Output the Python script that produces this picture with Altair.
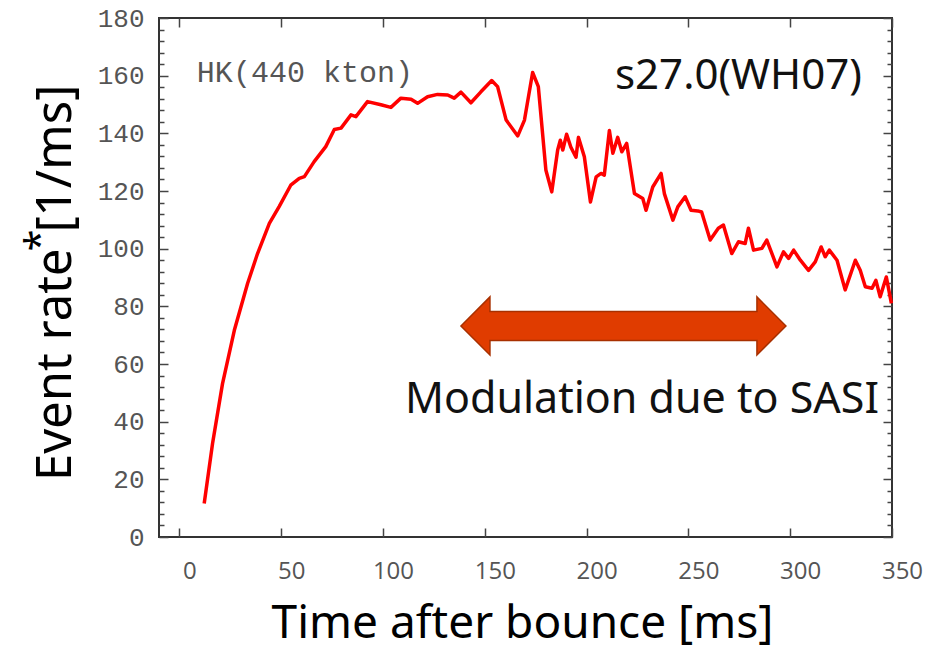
import altair as alt
import pandas as pd

# ---- data ----
time_ms = [12.2, 16.3, 21.2, 27.0, 33.5, 38.4, 44.2, 49.0, 54.7, 58.9,
           61.4, 66.2, 71.9, 76.1, 79.4, 84.3, 86.7, 92.4, 99.0, 103.9,
           108.8, 113.8, 117.0, 121.9, 126.8, 131.8, 135.0, 138.3, 143.2, 148.1,
           153.4, 156.3, 160.5, 166.2, 169.5, 173.5, 176.3, 180.0, 182.9, 185.8,
           187.1, 188.3, 190.2, 192.3, 194.8, 196.0, 198.9, 201.9, 204.7, 207.1,
           208.7, 211.2, 212.9, 215.3, 217.3, 219.7, 223.5, 227.6, 229.2, 232.5,
           236.6, 238.2, 242.4, 244.8, 248.4, 251.3, 254.6, 256.5, 260.7, 264.7,
           267.2, 271.3, 274.6, 277.9, 279.5, 282.0, 286.1, 288.5, 293.5, 296.7,
           299.2, 301.7, 305.0, 309.0, 312.3, 315.2, 317.2, 319.2, 323.0, 327.0,
           332.0, 334.4, 336.9, 340.2, 342.1, 344.2, 347.2, 349.7]
event_rate = [11.6, 32.4, 53.2, 71.7, 87.9, 98.3, 108.8, 114.6, 122.0, 124.4,
              125.0, 130.2, 135.4, 141.3, 141.8, 146.4, 145.8, 151.0, 149.9, 149.0,
              152.2, 151.8, 150.4, 152.7, 153.5, 153.3, 152.2, 154.3, 150.6, 154.4,
              158.3, 156.2, 144.6, 139.1, 144.6, 161.1, 156.2, 127.3, 119.7, 134.2,
              137.6, 134.2, 139.7, 135.2, 131.7, 138.6, 131.9, 116.2, 124.9, 126.1,
              125.5, 141.0, 133.1, 138.6, 133.6, 136.5, 119.1, 117.4, 113.3, 121.4,
              126.1, 119.1, 109.9, 114.5, 118.0, 113.3, 113.1, 112.7, 103.0, 107.1,
              108.2, 98.3, 102.4, 101.8, 107.1, 99.5, 100.1, 103.0, 93.7, 98.9,
              96.6, 99.5, 96.0, 92.5, 95.4, 100.6, 97.2, 99.5, 96.0, 85.7,
              96.0, 92.5, 86.8, 86.3, 89.0, 83.3, 90.2, 81.0]

x_ticks = [0, 50, 100, 150, 200, 250, 300, 350]
y_ticks = [0, 20, 40, 60, 80, 100, 120, 140, 160, 180]
y_minor = [v for v in range(0, 181, 4) if v % 20 != 0]

arrow_start = [138.3]
arrow_end = [297.9]
arrow_y = [73.2]

notes_text = ["HK(440 kton)", "s27.0(WH07)", "Modulation due to SASI"]
notes_t = [8.6, 335.2, 227.2]
notes_v = [157.8, 155.3, 42.9]

x_title = "Time after bounce [ms]"
y_title_parts = ["Event rate", "*", "[1/ms]"]

df = pd.DataFrame({"t": time_ms, "rate": event_rate})
arrow_df = pd.DataFrame({"xs": arrow_start, "xe": arrow_end, "y": arrow_y})
arrow_df["xc"] = (arrow_df["xs"] + arrow_df["xe"]) / 2

xscale = alt.Scale(domain=[-10, 350], nice=False, zero=False)
yscale = alt.Scale(domain=[0, 180], nice=False, zero=False)

TICK = "#444444"
MAJ = 9
MIN = 5
TFONT = "Noto Sans"
TSIZE = 46
YSIZE = 49

main = alt.Chart(df).mark_line(color="#ff0000", strokeWidth=3.5, strokeJoin="round").encode(
    x=alt.X("t:Q", scale=xscale, axis=alt.Axis(
        orient="bottom", values=x_ticks, offset=-MAJ, tickSize=MAJ, domain=False,
        grid=False, tickColor=TICK, tickWidth=1.5, labelFlush=False, labelOverlap=False,
        labelFont="Open Sans", labelFontSize=24, labelColor="#555555",
        labelPadding=22, labelOffset=10,
        title=x_title, titleFont=TFONT, titleFontSize=TSIZE,
        titleFontWeight="normal", titleColor="#000000",
        titleAlign="center", titleBaseline="alphabetic", titleX=363, titleY=109)),
    y=alt.Y("rate:Q", scale=yscale, axis=alt.Axis(
        orient="left", values=y_ticks, offset=-MAJ, tickSize=MAJ, domain=False,
        grid=False, tickColor=TICK, tickWidth=1.5, labelFlush=False, labelOverlap=False,
        labelFont="Liberation Mono", labelFontSize=26, labelColor="#555555",
        labelPadding=15,
        title=y_title_parts[0], titleFont=TFONT, titleFontSize=YSIZE,
        titleFontWeight="normal", titleColor="#000000", titleAngle=270,
        titleAlign="right", titleBaseline="alphabetic", titleX=-98, titleY=230)),
)

ghost = alt.Chart(df).mark_line(opacity=0)

mirror = ghost.encode(
    x=alt.X("t:Q", scale=xscale, axis=alt.Axis(
        orient="top", values=x_ticks, offset=-MAJ, tickSize=MAJ, domain=False,
        grid=False, labels=False, title=None, tickColor=TICK, tickWidth=1.5)),
    y=alt.Y("rate:Q", scale=yscale, axis=alt.Axis(
        orient="right", values=y_ticks, offset=-MAJ, tickSize=MAJ, domain=False,
        grid=False, labels=False, title=None, tickColor=TICK, tickWidth=1.5)),
)

minor_left = ghost.encode(
    x=alt.X("t:Q", scale=xscale, axis=None),
    y=alt.Y("rate:Q", scale=yscale, axis=alt.Axis(
        orient="left", values=y_minor, offset=-MIN, tickSize=MIN, domain=False,
        grid=False, labels=False, tickColor=TICK, tickWidth=1.5,
        title=y_title_parts[2], titleFont=TFONT, titleFontSize=YSIZE,
        titleFontWeight="normal", titleColor="#000000", titleAngle=270,
        titleAlign="left", titleBaseline="alphabetic", titleX=-94, titleY=214)),
)
minor_right = ghost.encode(
    x=alt.X("t:Q", scale=xscale, axis=None),
    y=alt.Y("rate:Q", scale=yscale, axis=alt.Axis(
        orient="right", values=y_minor, offset=-MIN, tickSize=MIN, domain=False,
        grid=False, labels=False, title=None, tickColor=TICK, tickWidth=1.5)),
)
star = ghost.encode(
    x=alt.X("t:Q", scale=xscale, axis=None),
    y=alt.Y("rate:Q", scale=yscale, axis=alt.Axis(
        orient="left", values=[], ticks=False, domain=False, grid=False, labels=False,
        title=y_title_parts[1], titleFont=TFONT, titleFontSize=40,
        titleFontWeight="normal", titleColor="#000000", titleAngle=270,
        titleAlign="center", titleBaseline="alphabetic", titleX=-107, titleY=222)),
)

# double-headed arrow drawn as one custom symbol centred between its ends
arrow_path = ("M-1,0L-0.8215,-0.1785L-0.8215,-0.0892L0.8215,-0.0892L0.8215,-0.1785"
              "L1,0L0.8215,0.1785L0.8215,0.0892L-0.8215,0.0892L-0.8215,0.1785Z")
arrow = alt.Chart(arrow_df).mark_point(
    shape=arrow_path, size=105625, filled=True, fill="#e03c00", fillOpacity=1,
    stroke="#a83000", strokeWidth=1.5, opacity=1
).encode(
    x=alt.X("xc:Q", scale=xscale, axis=None),
    y=alt.Y("y:Q", scale=yscale, axis=None),
)

def note(i, **kw):
    d = pd.DataFrame({"label": [notes_text[i]], "t": [notes_t[i]], "v": [notes_v[i]]})
    return alt.Chart(d).mark_text(baseline="alphabetic", **kw).encode(
        x=alt.X("t:Q", scale=xscale, axis=None),
        y=alt.Y("v:Q", scale=yscale, axis=None),
        text="label:N",
    )

hk = note(0, align="left", font="Liberation Mono", fontSize=30, color="#555555")
model = note(1, align="right", font="Noto Sans", fontSize=42, color="#111111")
modul = note(2, align="center", font="Noto Sans", fontSize=43, color="#111111")

chart = alt.layer(main, mirror, minor_left, minor_right, star, arrow, hk, model, modul).resolve_axis(
    x="independent", y="independent"
).properties(
    width=733, height=519,
    autosize=alt.AutoSizeParams(type="none"),
    padding={"left": 151, "top": 10, "right": 31, "bottom": 114},
    background="white",
).configure_view(stroke="#333333", strokeWidth=2)

chart.save("out.html", embed_options={"renderer": "svg", "actions": False})
